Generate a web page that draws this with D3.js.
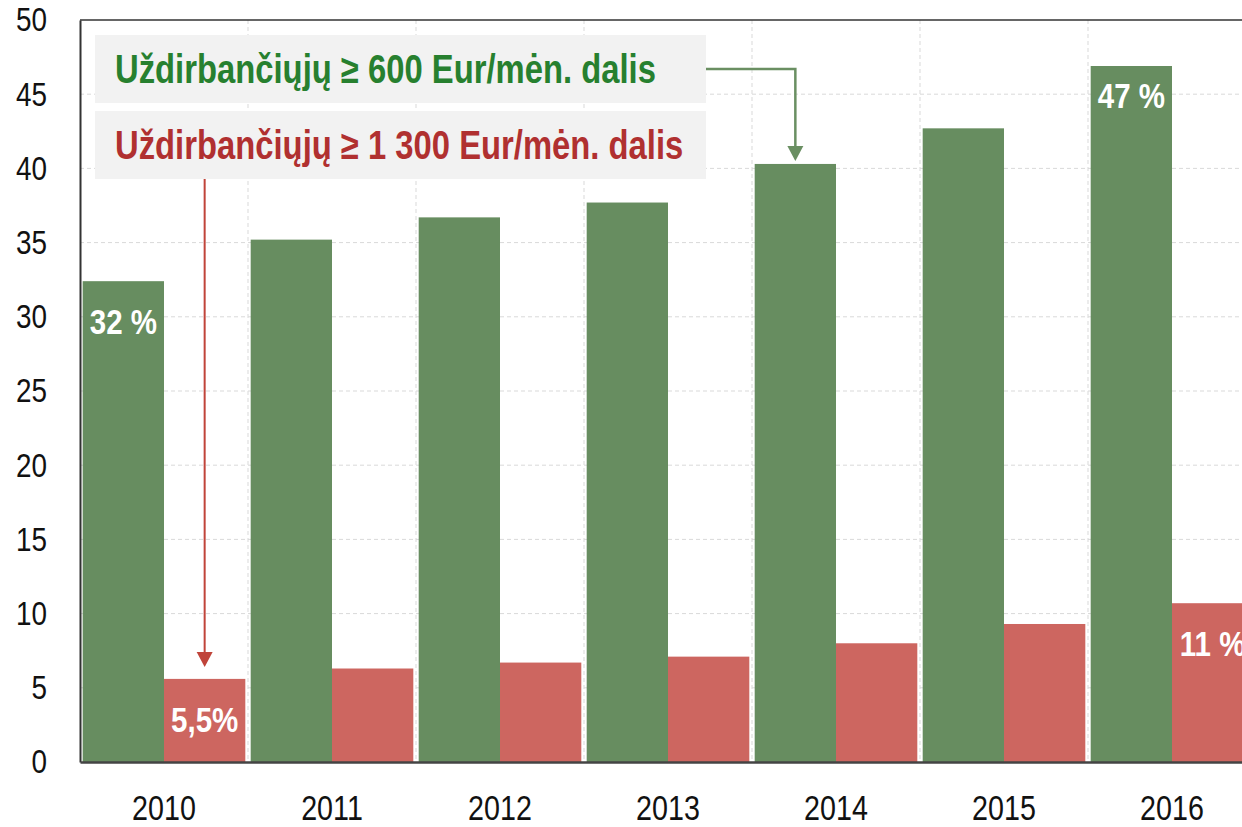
<!DOCTYPE html>
<html>
<head>
<meta charset="utf-8">
<script src="https://cdn.jsdelivr.net/npm/d3@7"></script>
<style>
  body { margin: 0; background: #fff; }
  svg text { font-family: "Liberation Sans Narrow", "Arial Narrow", "Liberation Sans", Arial, sans-serif; }
</style>
</head>
<body>
<script>
const years = ["2010", "2011", "2012", "2013", "2014", "2015", "2016"];
const seriesKeys = ["s600", "s1300"];
const share600 = [32.4, 35.2, 36.7, 37.7, 40.3, 42.7, 46.9];
const share1300 = [5.6, 6.3, 6.7, 7.1, 8.0, 9.3, 10.7];
const legendTexts = ["Uždirbančiųjų ≥ 600 Eur/mėn. dalis", "Uždirbančiųjų ≥ 1 300 Eur/mėn. dalis"];
const yTicks = [0, 5, 10, 15, 20, 25, 30, 35, 40, 45, 50];
// labels shown on some bars
const barLabels = [
  {year: "2010", key: "s600", text: "32 %"},
  {year: "2010", key: "s1300", text: "5,5%"},
  {year: "2016", key: "s600", text: "47 %"},
  {year: "2016", key: "s1300", text: "11 %"}
];

const w = 1242, h = 827;
const pLeft = 80, pTop = 20, pRight = 1256, pBottom = 762;
const narrow = 0.82; // no narrow font installed, squeeze the regular one

const colors = {s600: "#678d60", s1300: "#cd6660"};
const textColors = {s600: "#27802f", s1300: "#b03030"};

const data = years.map((y, i) => ({year: y, s600: share600[i], s1300: share1300[i]}));

const svg = d3.select("body").append("svg")
  .attr("width", w)
  .attr("height", h);

const x0 = d3.scaleBand().domain(years).range([pLeft, pRight])
  .paddingInner(0.032).paddingOuter(0.016);
const x1 = d3.scaleBand().domain(seriesKeys).range([0, x0.bandwidth()]);
const yScale = d3.scaleLinear().domain([0, 50]).range([pBottom, pTop]);

// grid
svg.append("g")
  .selectAll("line")
  .data(yTicks.filter(t => t > 0 && t < 50))
  .enter().append("line")
  .attr("x1", pLeft).attr("x2", pRight)
  .attr("y1", d => yScale(d)).attr("y2", d => yScale(d))
  .attr("stroke", "#d9d9d9").attr("stroke-width", 1).attr("stroke-dasharray", "4,3");

svg.append("g")
  .selectAll("line")
  .data(years.slice(1))
  .enter().append("line")
  .attr("x1", d => x0(d) - x0.step() * x0.paddingInner() / 2)
  .attr("x2", d => x0(d) - x0.step() * x0.paddingInner() / 2)
  .attr("y1", pTop).attr("y2", pBottom)
  .attr("stroke", "#d9d9d9").attr("stroke-width", 1).attr("stroke-dasharray", "4,3");

// bars
const groups = svg.append("g").selectAll("g")
  .data(data)
  .enter().append("g")
  .attr("transform", d => "translate(" + x0(d.year) + ",0)");

groups.selectAll("rect")
  .data(d => seriesKeys.map(k => ({key: k, value: d[k]})))
  .enter().append("rect")
  .attr("x", d => x1(d.key))
  .attr("y", d => yScale(d.value))
  .attr("width", x1.bandwidth())
  .attr("height", d => pBottom - yScale(d.value))
  .attr("fill", d => colors[d.key]);

// bar labels
const valueOf = (yr, k) => data.find(d => d.year === yr)[k];
svg.append("g").selectAll("text")
  .data(barLabels)
  .enter().append("text")
  .attr("transform", d => {
    const lx = x0(d.year) + x1(d.key) + x1.bandwidth() / 2;
    const ly = yScale(valueOf(d.year, d.key)) + (d.year === "2016" && d.key === "s600" ? 42 : 53);
    return "translate(" + lx + "," + ly + ") scale(" + narrow + ",1)";
  })
  .attr("text-anchor", "middle")
  .attr("fill", "#fff")
  .attr("font-weight", "bold")
  .attr("font-size", 36)
  .text(d => d.text);

// frame / axes
svg.append("line").attr("x1", pLeft).attr("x2", w).attr("y1", pTop).attr("y2", pTop)
  .attr("stroke", "#333").attr("stroke-width", 1.5);

const yAxis = d3.axisLeft(yScale).tickValues(yTicks).tickSize(0);
const yG = svg.append("g").attr("transform", "translate(" + pLeft + ",0)").call(yAxis);
yG.select(".domain").attr("stroke", "#333").attr("stroke-width", 2);
yG.selectAll("text")
  .attr("x", 0)
  .attr("transform", "translate(-33,0) scale(" + narrow + ",1)")
  .attr("font-size", 34).attr("fill", "#111")
  .attr("font-family", null);

const xAxis = d3.axisBottom(x0).tickSize(0).tickPadding(33);
const xG = svg.append("g").attr("transform", "translate(0," + pBottom + ")").call(xAxis);
xG.select(".domain").attr("stroke", "#444").attr("stroke-width", 2.5);
xG.selectAll("text")
  .attr("transform", "scale(" + narrow + ",1)")
  .attr("font-size", 35).attr("fill", "#111")
  .attr("font-family", null);

// legend boxes
const boxX = 95, boxW = 611, boxH = 68;
const boxY = [35, 111];
const legend = svg.append("g");
legendTexts.forEach((t, i) => {
  legend.append("rect")
    .attr("x", boxX).attr("y", boxY[i])
    .attr("width", boxW).attr("height", boxH)
    .attr("fill", "#f2f2f2");
  legend.append("text")
    .attr("transform", "translate(" + (boxX + 20) + "," + (boxY[i] + 48) + ") scale(" + narrow + ",1)")
    .attr("fill", textColors[seriesKeys[i]])
    .attr("font-weight", "bold")
    .attr("font-size", 40)
    .text(t);
});

// arrows
const arrowHead = (g, tipX, tipY, color) => {
  g.append("path")
    .attr("d", "M" + (tipX - 8) + "," + (tipY - 15) + " L" + (tipX + 8) + "," + (tipY - 15) + " L" + tipX + "," + tipY + " Z")
    .attr("fill", color);
};

const gx = x0("2014") + x1("s600") + x1.bandwidth() / 2;
const gTip = yScale(valueOf("2014", "s600")) - 3;
const gy = boxY[0] + boxH / 2;
svg.append("path")
  .attr("d", "M" + (boxX + boxW) + "," + gy + " H" + gx + " V" + (gTip - 12))
  .attr("fill", "none").attr("stroke", "#6a8f62").attr("stroke-width", 2.5);
arrowHead(svg, gx, gTip, "#6a8f62");

const rx = x0("2010") + x1("s1300") + x1.bandwidth() / 2;
const rTip = yScale(valueOf("2010", "s1300")) - 12;
svg.append("path")
  .attr("d", "M" + rx + "," + (boxY[1] + boxH) + " V" + (rTip - 12))
  .attr("fill", "none").attr("stroke", "#c0443a").attr("stroke-width", 2);
arrowHead(svg, rx, rTip, "#c0443a");
</script>
</body>
</html>
